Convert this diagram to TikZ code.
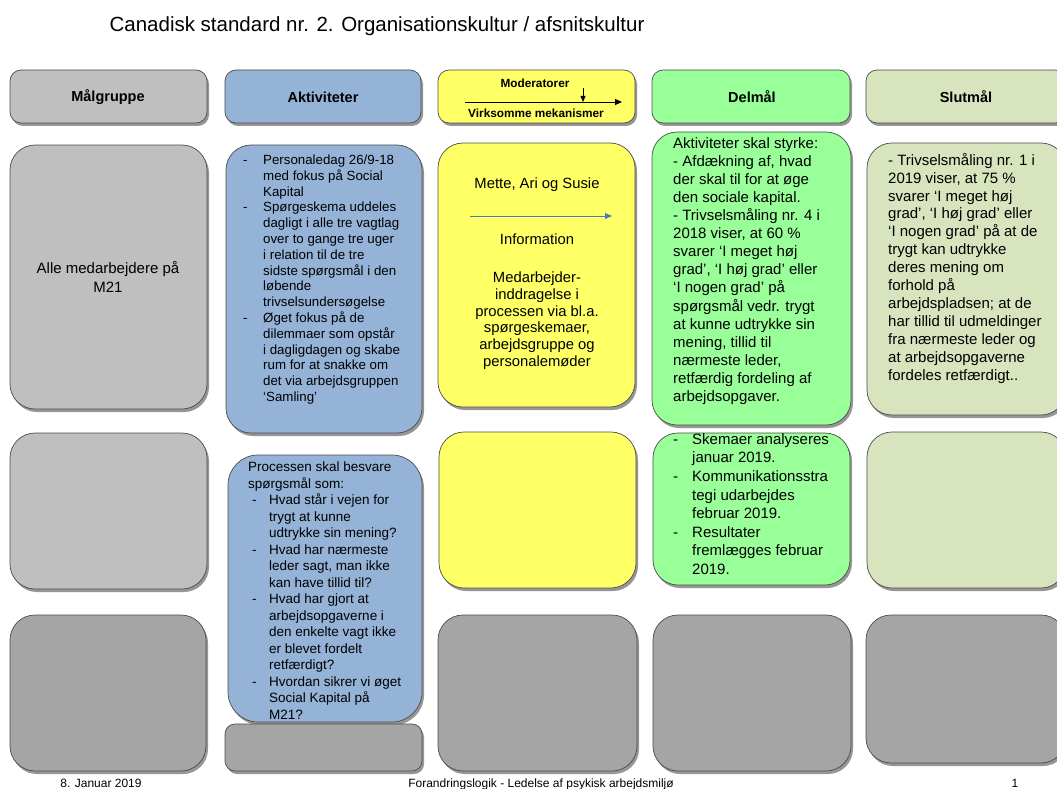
\documentclass[tikz,border=0pt]{standalone}
\usepackage{fontspec}
\setmainfont{Liberation Sans}
\usetikzlibrary{shadows,fit,arrows.meta}
\definecolor{grayL}{HTML}{BFBFBF}
\definecolor{grayD}{HTML}{A5A5A5}
\definecolor{blueB}{HTML}{95B3D7}
\definecolor{yellowB}{HTML}{FFFF66}
\definecolor{greenB}{HTML}{99FF99}
\definecolor{oliveB}{HTML}{D7E4BD}
\definecolor{arrowBlue}{HTML}{4A7EBB}
\newcommand{\fs}[2]{\fontsize{#1}{#2}\selectfont}
\newcommand{\bdash}[1]{\makebox[#1][l]{-}}
\newcommand{\bind}[1]{\hspace*{#1}}
\begin{document}
\begin{tikzpicture}[x=1pt,y=-1pt,
  box/.style={draw=black!70, line width=0.7pt, inner sep=0pt,
    drop shadow={shadow xshift=2pt, shadow yshift=-3pt, opacity=0.55, fill=black!75}},
  hdr/.style={box, rounded corners=11pt},
  big/.style={box, rounded corners=25pt},
  small/.style={box, rounded corners=10pt},
  txt/.style={anchor=north west, inner sep=0pt, align=left},
  ctxt/.style={inner sep=0pt, align=center},
  htxt/.style={inner sep=0pt, font=\bfseries\fs{14.5}{17}},
  mtxt/.style={inner sep=0pt, font=\bfseries\fs{11.8}{14}},
  ftxt/.style={inner sep=0pt, anchor=base, font=\fs{12}{14}},
]
\fill[white] (0,0) rectangle (1057,789);
\useasboundingbox (0,0) rectangle (1057,789);

% title
\node[inner sep=0pt, anchor=base, font=\fs{20.5}{24}] (title) at (377,31.5) {Canadisk standard nr. 2. Organisationskultur  / afsnitskultur};

% header row
\node[hdr, fill=grayL,  fit={(10,70)(207,123)}] (h1) {};
\node[hdr, fill=blueB,  fit={(225,70)(421,123)}] (h2) {};
\node[hdr, fill=yellowB,fit={(438,70)(635,123)}] (h3) {};
\node[hdr, fill=greenB, fit={(652,70)(850,123)}] (h4) {};
\node[hdr, fill=oliveB, fit={(866,70)(1066,123)}] (h5) {};
\node[htxt] (th1) at (108,97) {Målgruppe};
\node[htxt] (th2) at (323,97) {Aktiviteter};
\node[htxt] (th4) at (752,97) {Delmål};
\node[htxt] (th5) at (966,97) {Slutmål};
\node[mtxt] (tmod) at (535,83) {Moderatorer};
\node[mtxt] (tvirk) at (536,113) {Virksomme mekanismer};
\coordinate (mL) at (465,102);
\coordinate (mR) at (622,102);
\coordinate (mT) at (583,88);
\coordinate (mB) at (583,102);
\draw[line width=0.8pt, -{Triangle[length=7pt,width=6pt]}] (mL) -- (mR);
\draw[line width=0.8pt, -{Triangle[length=6pt,width=5pt]}] (mT) -- (mB);

% row 2
\node[big, fill=grayL,  fit={(10,145)(207,409)}] (m2) {};
\node[big, fill=blueB,  fit={(226,145)(422,433)}] (a2) {};
\node[big, fill=yellowB,fit={(438,143)(635,407)}] (y2) {};
\node[big, fill=greenB, fit={(652,132)(851,425)}] (d2) {};
\node[big, fill=oliveB, fit={(867,143)(1066,415)}] (s2) {};

% row 3
\node[big, fill=grayL,  fit={(10,433)(207,589)}] (m3) {};
\node[big, fill=blueB,  rounded corners=30pt, fit={(228,455)(422,722)}] (a3) {};
\node[big, fill=yellowB,fit={(439,432)(636,588)}] (y3) {};
\node[big, fill=greenB, fit={(653,433)(850,585)}] (d3) {};
\node[big, fill=oliveB, fit={(867,432)(1066,588)}] (s3) {};

% row 4
\node[big, fill=grayD, fit={(10,615)(206,771)}] (m4) {};
\node[small, fill=grayD, fit={(225,724)(422,771)}] (a4) {};
\node[big, fill=grayD, fit={(438,615)(637,771)}] (y4) {};
\node[big, fill=grayD, fit={(653,615)(851,771)}] (d4) {};
\node[big, fill=grayD, fit={(866,615)(1066,763)}] (s4) {};

% Malgruppe text
\node[ctxt, font=\fs{15}{19}] (tm2) at (108,277) {Alle medarbejdere på\\M21};

% Aktiviteter box 1
\node[txt, font=\fs{13.3}{15.8}] (ta2) at (243,153.3) {%
\strut\bdash{20pt}Personaledag 26/9-18\\
\bind{20pt}med fokus på Social\\
\bind{20pt}Kapital\\
\bdash{20pt}Spørgeskema uddeles\\
\bind{20pt}dagligt i alle tre vagtlag\\
\bind{20pt}over to gange tre uger\\
\bind{20pt}i relation til de tre\\
\bind{20pt}sidste spørgsmål i den\\
\bind{20pt}løbende\\
\bind{20pt}trivselsundersøgelse\\
\bdash{20pt}Øget fokus på de\\
\bind{20pt}dilemmaer som opstår\\
\bind{20pt}i dagligdagen  og skabe\\
\bind{20pt}rum for at snakke om\\
\bind{20pt}det via arbejdsgruppen\\
\bind{20pt}‘Samling’};

% Aktiviteter box 2
\node[txt, font=\fs{13.5}{16.5}] (ta3) at (248,460) {%
\strut Processen skal besvare\\
spørgsmål som:\\
\bind{4pt}\bdash{17pt}Hvad står i vejen for\\
\bind{21pt}trygt at kunne\\
\bind{21pt}udtrykke  sin mening?\\
\bind{4pt}\bdash{17pt}Hvad har nærmeste\\
\bind{21pt}leder sagt, man ikke\\
\bind{21pt}kan have tillid til?\\
\bind{4pt}\bdash{17pt}Hvad har gjort at\\
\bind{21pt}arbejdsopgaverne  i\\
\bind{21pt}den enkelte  vagt ikke\\
\bind{21pt}er blevet  fordelt\\
\bind{21pt}retfærdigt?\\
\bind{4pt}\bdash{17pt}Hvordan sikrer vi øget\\
\bind{21pt}Social Kapital på\\
\bind{21pt}M21?};

% Moderator box text
\node[ctxt, font=\fs{14.8}{16.7}] (ty1) at (537,185) {Mette, Ari og Susie};
\coordinate (bL) at (470,216);
\coordinate (bR) at (612,216);
\draw[arrowBlue, line width=0.9pt, -{Triangle[length=7pt,width=6pt]}] (bL) -- (bR);
\node[ctxt, font=\fs{14.8}{16.7}] (ty2) at (537,239) {Information};
\node[ctxt, anchor=north, font=\fs{14.8}{16.7}] (ty3) at (537,271) {%
\strut Medarbejder-\\
inddragelse i\\
processen via bl.a.\\
spørgeskemaer,\\
arbejdsgruppe og\\
personalemøder};

% Delmaal box 1
\node[txt, font=\fs{15}{18.1}] (td2) at (673,135.3) {%
\strut Aktiviteter  skal  styrke:\\
- Afdækning af, hvad\\
der skal til for at øge\\
den sociale kapital.\\
- Trivselsmåling  nr. 4 i\\
2018 viser, at 60 \%\\
svarer ‘I meget høj\\
grad’, ‘I høj grad’ eller\\
‘I nogen grad’ på\\
spørgsmål  vedr. trygt\\
at kunne udtrykke sin\\
mening, tillid til\\
nærmeste leder,\\
retfærdig fordeling af\\
arbejdsopgaver.};

% Delmaal box 2
\node[txt, font=\fs{15}{18.6}] (td3) at (673,431) {%
\strut\bdash{19pt}Skemaer analyseres\\
\bind{19pt}januar 2019.\\
\bdash{19pt}Kommunikationsstra\\
\bind{19pt}tegi udarbejdes\\
\bind{19pt}februar 2019.\\
\bdash{19pt}Resultater\\
\bind{19pt}fremlægges februar\\
\bind{19pt}2019.};

% Slutmaal box
\node[txt, font=\fs{15}{17.9}] (ts2) at (888,152.5) {%
\strut - Trivselsmåling  nr. 1 i\\
2019 viser, at 75 \%\\
svarer ‘I meget høj\\
grad’, ‘I høj grad’ eller\\
‘I nogen grad’ på at de\\
trygt kan udtrykke\\
deres mening om\\
forhold på\\
arbejdspladsen; at de\\
har tillid til udmeldinger\\
fra nærmeste leder og\\
at arbejdsopgaverne\\
fordeles retfærdigt..};

% footer
\node[ftxt] (f1) at (101,787) {8. Januar 2019};
\node[ftxt] (f2) at (541,787) {Forandringslogik  - Ledelse af psykisk arbejdsmiljø};
\node[ftxt] (f3) at (1015,787) {1};
\end{tikzpicture}
\end{document}
